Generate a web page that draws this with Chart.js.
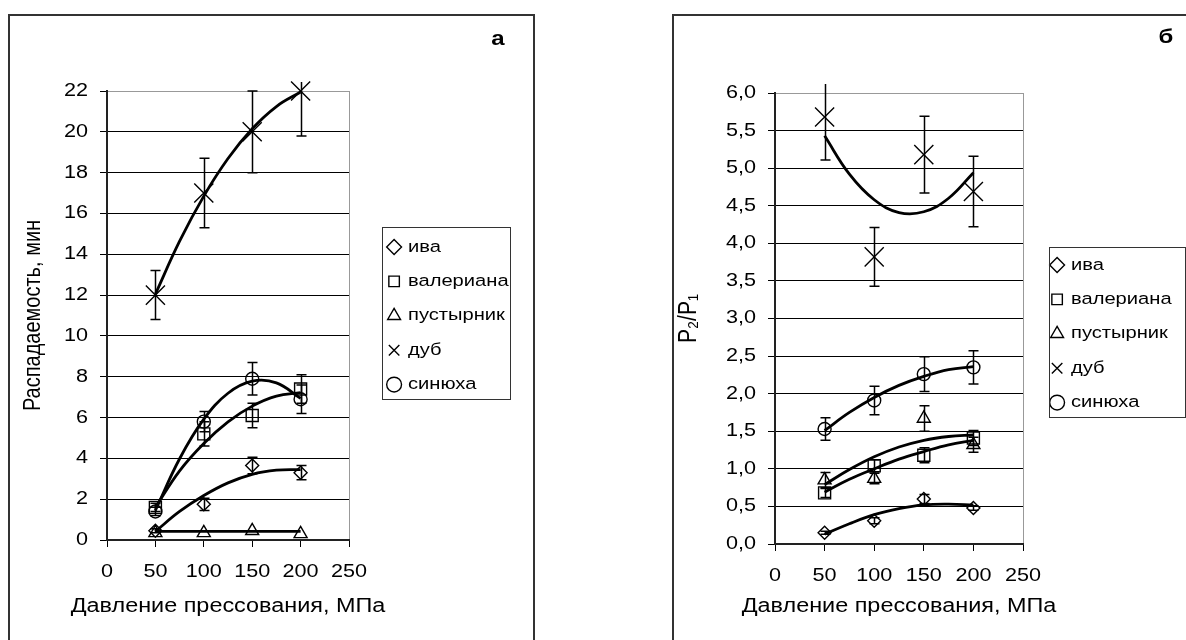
<!DOCTYPE html>
<html><head><meta charset="utf-8">
<script src="https://cdn.jsdelivr.net/npm/chart.js@4/dist/chart.umd.min.js"></script>
<style>
html,body{margin:0;padding:0;background:#fff;}
body{width:1186px;height:640px;position:relative;overflow:hidden;}
.frame{position:absolute;border:2px solid #333;box-sizing:border-box;}
canvas{position:absolute;top:0;}
</style></head><body>
<div class="frame" style="left:8px;top:14px;width:527px;height:660px"></div>
<div class="frame" style="left:672px;top:14px;width:560px;height:660px"></div>
<canvas id="ca" width="560" height="640" style="left:0"></canvas>
<canvas id="cb" width="526" height="640" style="left:660px"></canvas>
<script>
// ---------- data ----------
const pressure = [50, 100, 150, 200];
const trendPressure = [50, 75, 100, 125, 150, 175, 200];
const speciesNames = ['ива', 'валериана', 'пустырник', 'дуб', 'синюха'];
const xTickLabels = ['0', '50', '100', '150', '200', '250'];
const yTickLabelsA = ['0', '2', '4', '6', '8', '10', '12', '14', '16', '18', '20', '22'];
const yTickLabelsB = ['0,0', '0,5', '1,0', '1,5', '2,0', '2,5', '3,0', '3,5', '4,0', '4,5', '5,0', '5,5', '6,0'];

// panel а: Распадаемость, мин
const ivaA = [0.45, 1.75, 3.65, 3.3];
const ivaErrA = [0.1, 0.3, 0.4, 0.35];
const ivaTrendA = [0.42, 1.4, 2.18, 2.8, 3.22, 3.42, 3.45];
const valerianaA = [1.6, 5.2, 6.1, 7.4];
const valerianaErrA = [0.2, 0.6, 0.6, 0.7];
const valerianaTrendA = [1.6, 3.39, 4.73, 5.79, 6.56, 7.05, 7.22];
const pustyrnikA = [0.35, 0.35, 0.45, 0.3];
const pustyrnikErrA = [0, 0, 0, 0];
const pustyrnikTrendA = [0.42, 0.42, 0.42, 0.42, 0.42, 0.42, 0.42];
const dubA = [12, 17, 20, 22];
const dubErrA = [1.2, 1.7, 2.0, 2.2];
const dubTrendA = [12.05, 14.64, 16.85, 18.69, 20.15, 21.24, 21.95];
const sinyuhaA = [1.4, 5.8, 7.9, 6.9];
const sinyuhaErrA = [0.2, 0.5, 0.8, 0.7];
const sinyuhaTrendA = [1.45, 3.98, 5.92, 7.19, 7.78, 7.7, 6.94];

// panel б: P2/P1
const ivaB = [0.15, 0.31, 0.6, 0.48];
const ivaErrB = [0.02, 0.04, 0.06, 0.03];
const ivaTrendB = [0.13, 0.27, 0.39, 0.47, 0.52, 0.53, 0.52];
const valerianaB = [0.68, 1.04, 1.18, 1.41];
const valerianaErrB = [0.06, 0.08, 0.1, 0.1];
const valerianaTrendB = [0.69, 0.86, 1.0, 1.13, 1.23, 1.32, 1.38];
const pustyrnikB = [0.85, 0.87, 1.67, 1.32];
const pustyrnikErrB = [0.1, 0.07, 0.17, 0.1];
const pustyrnikTrendB = [0.79, 0.99, 1.16, 1.29, 1.38, 1.43, 1.45];
const dubB = [5.68, 3.82, 5.18, 4.69];
const dubErrB = [0.57, 0.39, 0.51, 0.47];
const dubTrendB = [5.43, 4.92, 4.58, 4.41, 4.42, 4.6, 4.94];
const sinyuhaB = [1.53, 1.91, 2.26, 2.35];
const sinyuhaErrB = [0.15, 0.19, 0.23, 0.22];
const sinyuhaTrendB = [1.51, 1.75, 1.95, 2.11, 2.23, 2.32, 2.36];

// ---------- styling ----------
const markerStyles = ['rectRot', 'rect', 'triangle', 'crossRot', 'circle'];
const markerRadii = [6.5, 8.5, 7.5, 13.5, 6.5];
const FONT = '"Liberation Sans", Arial, sans-serif';
const TEXT_STRETCH = 1.2;
Chart.defaults.font.family = FONT;
Chart.defaults.color = '#000';

const stretchPlugin = {
  id: 'stretch',
  beforeInit(chart) {
    const ctx = chart.ctx;
    if (ctx.__patched) return;
    const orig = ctx.fillText;
    ctx.fillText = function (t, x, y) {
      const m = this.getTransform();
      const p = m.transformPoint(new DOMPoint(x, y));
      this.save();
      this.setTransform(new DOMMatrix().translate(p.x, p.y).scale(TEXT_STRETCH, 1).translate(-p.x, -p.y).multiply(m));
      orig.call(this, t, x, y);
      this.restore();
    };
    ctx.__patched = true;
  }
};

const errorBarPlugin = {
  id: 'errorBars',
  afterDatasetsDraw(chart) {
    const {ctx, chartArea, scales: {x, y}} = chart;
    const limitTop = chartArea.top - 9;
    ctx.save();
    ctx.strokeStyle = '#000';
    ctx.lineWidth = 1.5;
    chart.data.datasets.forEach(ds => {
      if (!ds.errors) return;
      ds.data.forEach((p, j) => {
        const e = ds.errors[j];
        if (!e) return;
        const px = Math.round(x.getPixelForValue(p.x)) + 0.5;
        let top = y.getPixelForValue(p.y + e);
        const bot = y.getPixelForValue(p.y - e);
        const clipped = top < limitTop;
        if (clipped) top = limitTop;
        ctx.beginPath();
        ctx.moveTo(px, top); ctx.lineTo(px, bot);
        if (!clipped) { ctx.moveTo(px - 5, top); ctx.lineTo(px + 5, top); }
        ctx.moveTo(px - 5, bot); ctx.lineTo(px + 5, bot);
        ctx.stroke();
      });
    });
    ctx.restore();
  }
};

function decorPlugin(o) {
  return {
    id: 'decor',
    beforeDraw(chart) {
      const lg = chart.legend;
      lg.left = o.legendX; lg.top = o.legendY;
      lg.right = o.legendX + 200; lg.bottom = o.legendY + 400;
    },
    afterDraw(chart) {
      const ctx = chart.ctx;
      ctx.save();
      ctx.strokeStyle = '#333';
      ctx.lineWidth = 1;
      ctx.strokeRect(o.box[0] + 0.5, o.box[1] + 0.5, o.box[2] - o.box[0], o.box[3] - o.box[1]);
      ctx.fillStyle = '#000';
      ctx.font = 'bold 20px ' + FONT;
      ctx.textAlign = 'center';
      ctx.textBaseline = 'alphabetic';
      ctx.fillText(o.letter, o.letterX, o.letterY);
      ctx.restore();
    }
  };
}

function buildDatasets(series) {
  const ds = [];
  series.forEach((s, i) => {
    ds.push({
      label: speciesNames[i],
      data: pressure.map((x, j) => ({x, y: s.values[j]})),
      errors: s.errors,
      pointStyle: markerStyles[i], pointRadius: markerRadii[i], pointHoverRadius: markerRadii[i],
      pointBorderColor: '#000', pointBackgroundColor: 'rgba(0,0,0,0)', pointBorderWidth: 1.4,
      borderColor: '#000', backgroundColor: 'rgba(0,0,0,0)',
      showLine: false, clip: false
    });
  });
  series.forEach((s, i) => {
    ds.push({
      label: speciesNames[i] + ' (тренд)',
      data: trendPressure.map((x, j) => ({x, y: s.trend[j]})),
      showLine: true, borderColor: '#000', borderWidth: 2.8, pointRadius: 0, pointHoverRadius: 0,
      tension: 0.4, isTrend: true, clip: false
    });
  });
  return ds;
}

function makeChart(canvasId, series, cfg) {
  return new Chart(document.getElementById(canvasId), {
    type: 'scatter',
    data: {datasets: buildDatasets(series)},
    plugins: [stretchPlugin, errorBarPlugin, decorPlugin(cfg.decor)],
    options: {
      responsive: false, animation: false, events: [],
      layout: {padding: cfg.padding},
      plugins: {
        tooltip: {enabled: false},
        title: {display: false},
        legend: {
          display: true, position: 'chartArea', align: 'start',
          labels: {
            usePointStyle: true, boxHeight: 10.5, boxWidth: 11, padding: 17.6,
            font: {size: 16.8, family: FONT}, color: '#000',
            filter: item => item.datasetIndex < 5
          }
        }
      },
      scales: {
        x: {
          type: 'linear', min: 0, max: 250,
          afterFit: s => { s.height = cfg.xHeight; },
          ticks: {stepSize: 50, padding: 14, font: {size: 18}, color: '#000',
            callback: (v, i) => xTickLabels[i]},
          grid: {drawOnChartArea: true, lineWidth: 1, tickLength: 7, tickColor: '#000', tickWidth: 1,
            color: c => (c.tick && c.tick.value === 250) ? '#999' : 'rgba(0,0,0,0)'},
          border: {color: '#222', width: 2},
          title: {display: true, text: 'Давление прессования, МПа', font: {size: 19.5}, color: '#000',
            padding: {top: 0, bottom: 22}}
        },
        y: {
          type: 'linear', min: 0, max: cfg.yMax,
          afterFit: s => { s.width = cfg.yWidth; },
          ticks: {stepSize: cfg.yStep, padding: 12, font: {size: 18}, color: '#000',
            callback: (v, i) => cfg.yLabels[i]},
          grid: {lineWidth: 1, tickLength: 7, tickColor: '#000', tickWidth: 1,
            color: c => (c.tick && c.tick.value === cfg.yMax) ? '#999' : '#000'},
          border: {color: '#222', width: 2},
          title: {display: true, text: cfg.yTitle, font: {size: cfg.yTitleSize}, color: '#000',
            padding: {top: cfg.yTitlePad, bottom: 0}}
        }
      }
    }
  });
}

const seriesA = [
  {values: ivaA, errors: ivaErrA, trend: ivaTrendA},
  {values: valerianaA, errors: valerianaErrA, trend: valerianaTrendA},
  {values: pustyrnikA, errors: pustyrnikErrA, trend: pustyrnikTrendA},
  {values: dubA, errors: dubErrA, trend: dubTrendA},
  {values: sinyuhaA, errors: sinyuhaErrA, trend: sinyuhaTrendA}
];
const seriesB = [
  {values: ivaB, errors: ivaErrB, trend: ivaTrendB},
  {values: valerianaB, errors: valerianaErrB, trend: valerianaTrendB},
  {values: pustyrnikB, errors: pustyrnikErrB, trend: pustyrnikTrendB},
  {values: dubB, errors: dubErrB, trend: dubTrendB},
  {values: sinyuhaB, errors: sinyuhaErrB, trend: sinyuhaTrendB}
];

makeChart('ca', seriesA, {
  padding: {top: 91, right: 211, bottom: 0, left: 0},
  xHeight: 100, yWidth: 107, yMax: 22, yStep: 2, yLabels: yTickLabelsA,
  yTitle: 'Распадаемость, мин', yTitleSize: 20, yTitlePad: 21,
  decor: {legendX: 371, legendY: 221, box: [382, 227, 510, 399], letter: 'а', letterX: 498, letterY: 45}
});
makeChart('cb', seriesB, {
  padding: {top: 93, right: 163, bottom: 0, left: 0},
  xHeight: 96, yWidth: 115, yMax: 6, yStep: 0.5, yLabels: yTickLabelsB,
  yTitle: 'P₂/P₁', yTitleSize: 21, yTitlePad: 16,
  decor: {legendX: 374, legendY: 239, box: [389, 247, 525, 417], letter: 'б', letterX: 506, letterY: 43}
});
</script>
</body></html>
